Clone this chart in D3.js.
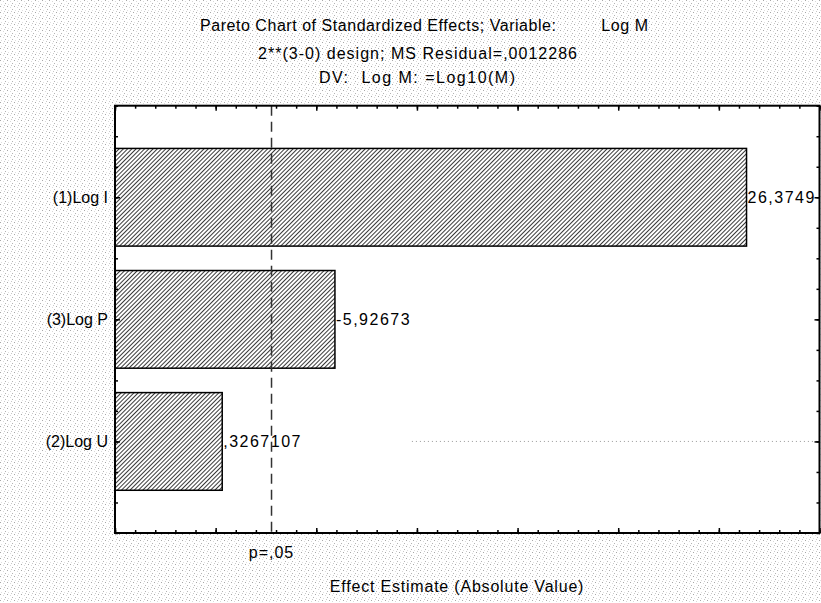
<!DOCTYPE html>
<html>
<head>
<meta charset="utf-8">
<script src="https://cdn.jsdelivr.net/npm/d3@7"></script>
<style>
  html, body { margin: 0; padding: 0; background: #fff; }
  svg { display: block; font-family: "Liberation Sans", Arial, sans-serif; }
  .axis path { stroke: none; }
  .axis line { stroke: #000; stroke-width: 1.5; }
</style>
</head>
<body>
<svg id="pareto" width="821" height="603"></svg>
<script>
// Effects, sorted as in the chart
const categories = ["(1)Log I", "(3)Log P", "(2)Log U"];
const effects = [26.3749, -5.92673, 0.3267107];
const effectLabels = ["26,3749", "-5,92673", ",3267107"];
const pCritical = 2.776;
const pLabel = "p=,05";
const titleLines = [
  "Pareto Chart of Standardized Effects; Variable:         Log M",
  "2**(3-0) design; MS Residual=,0012286",
  "DV:  Log M: =Log10(M)"
];
const xTitle = "Effect Estimate (Absolute Value)";
const gridValue = 9.75; // the odd dotted grid stub at (2)Log U

const svg = d3.select("#pareto");
const margin = { top: 105.7, right: 1.5, bottom: 70, left: 115 };
const W = +svg.attr("width"), H = +svg.attr("height");

// stippled background
const defs = svg.append("defs");
const bg = defs.append("pattern")
  .attr("id", "stipple")
  .attr("patternUnits", "userSpaceOnUse")
  .attr("width", 7).attr("height", 6);
bg.append("rect").attr("width", 7).attr("height", 6).attr("fill", "#fff");
[[0, 0, "#a8a8a8"], [3, 1, "#dadada"], [5, 3, "#b4b4b4"], [1, 4, "#e0e0e0"], [4, 5, "#c8c8c8"]]
  .forEach(([x, y, c]) => bg.append("rect").attr("x", x).attr("y", y)
    .attr("width", 1).attr("height", 1).attr("fill", c));

const hatch = defs.append("pattern")
  .attr("id", "hatch")
  .attr("patternUnits", "userSpaceOnUse")
  .attr("width", 3).attr("height", 3)
  .attr("patternTransform", "rotate(45)");
hatch.append("rect").attr("width", 3).attr("height", 3).attr("fill", "#fff");
hatch.append("rect").attr("width", 1).attr("height", 3).attr("fill", "#3a3a3a");

svg.append("rect").attr("width", W).attr("height", H).attr("fill", "url(#stipple)");

const x = d3.scaleLinear()
  .domain([-5, 30])
  .range([margin.left, W - margin.right]);

const y = d3.scaleLinear()
  .domain([0, 3.5])
  .range([margin.top, H - margin.bottom]);

const pos = (d, i) => i + 0.75;
const halfBar = 0.4;

// plot area
svg.append("rect")
  .attr("x", x(-5)).attr("y", y(0))
  .attr("width", x(30) - x(-5)).attr("height", y(3.5) - y(0))
  .attr("fill", "#fff");

// dotted grid stub
svg.append("line")
  .attr("x1", x(gridValue)).attr("x2", x(30))
  .attr("y1", y(2.75)).attr("y2", y(2.75))
  .attr("stroke", "#999")
  .attr("stroke-width", 1)
  .attr("stroke-dasharray", "1 3");

// bars (absolute effect)
svg.selectAll(".bar")
  .data(effects)
  .join("rect")
  .attr("class", "bar")
  .attr("x", x(-5))
  .attr("y", (d, i) => y(pos(d, i) - halfBar))
  .attr("width", d => x(Math.abs(d)) - x(-5))
  .attr("height", y(2 * halfBar) - y(0))
  .attr("fill", "url(#hatch)")
  .attr("stroke", "#000")
  .attr("stroke-width", 1.5);

svg.selectAll(".val")
  .data(effects)
  .join("text")
  .attr("class", "val")
  .attr("x", d => x(Math.abs(d)) + 1)
  .attr("y", (d, i) => y(pos(d, i)))
  .attr("dy", "0.35em")
  .attr("font-size", 16)
  .attr("letter-spacing", 1.5)
  .text((d, i) => effectLabels[i]);

// p = .05 line
svg.append("line")
  .attr("x1", x(pCritical)).attr("x2", x(pCritical))
  .attr("y1", y(0)).attr("y2", y(3.5))
  .attr("stroke", "#333")
  .attr("stroke-width", 1.5)
  .attr("stroke-dasharray", "10 6");

svg.append("text")
  .attr("x", x(pCritical))
  .attr("y", y(3.5) + 25)
  .attr("text-anchor", "middle")
  .attr("font-size", 16)
  .attr("letter-spacing", 1)
  .text(pLabel);

// ticks, all pointing inward
const minorX = d3.range(-5, 31, 1);
const majorX = d3.range(-5, 31, 5);
const minorY = d3.range(0, 3.51, 0.25);
const catY = categories.map(pos);

svg.append("g").attr("class", "axis")
  .attr("transform", `translate(0,${y(3.5)})`)
  .call(d3.axisBottom(x).tickValues(minorX).tickSize(-3).tickFormat(""));
svg.append("g").attr("class", "axis")
  .attr("transform", `translate(0,${y(3.5)})`)
  .call(d3.axisBottom(x).tickValues(majorX).tickSize(-5).tickFormat(""));
svg.append("g").attr("class", "axis")
  .attr("transform", `translate(0,${y(0)})`)
  .call(d3.axisTop(x).tickValues(minorX).tickSize(-3).tickFormat(""));
svg.append("g").attr("class", "axis")
  .attr("transform", `translate(0,${y(0)})`)
  .call(d3.axisTop(x).tickValues(majorX).tickSize(-5).tickFormat(""));

svg.append("g").attr("class", "axis")
  .attr("transform", `translate(${x(-5)},0)`)
  .call(d3.axisLeft(y).tickValues(minorY).tickSize(-3).tickFormat(""));
svg.append("g").attr("class", "axis")
  .attr("transform", `translate(${x(-5)},0)`)
  .call(d3.axisLeft(y).tickValues(catY).tickSize(-5).tickFormat(""));
svg.append("g").attr("class", "axis")
  .attr("transform", `translate(${x(30)},0)`)
  .call(d3.axisRight(y).tickValues(minorY).tickSize(-3).tickFormat(""));
svg.append("g").attr("class", "axis")
  .attr("transform", `translate(${x(30)},0)`)
  .call(d3.axisRight(y).tickValues(catY).tickSize(-5).tickFormat(""));

// frame
svg.append("rect")
  .attr("x", x(-5)).attr("y", y(0))
  .attr("width", x(30) - x(-5)).attr("height", y(3.5) - y(0))
  .attr("fill", "none")
  .attr("stroke", "#000")
  .attr("stroke-width", 2);

// category labels
svg.selectAll(".cat")
  .data(categories)
  .join("text")
  .attr("class", "cat")
  .attr("x", x(-5) - 7)
  .attr("y", (d, i) => y(pos(d, i)))
  .attr("dy", "0.35em")
  .attr("text-anchor", "end")
  .attr("font-size", 16)
  .text(d => d);

// titles
const titleSpan = [[200, 648], [258, 577], [319, 515]];
svg.selectAll(".title")
  .data(titleLines)
  .join("text")
  .attr("class", "title")
  .attr("x", (d, i) => titleSpan[i][0])
  .attr("y", (d, i) => [31, 59, 83][i])
  .attr("font-size", 16)
  .attr("textLength", (d, i) => titleSpan[i][1] - titleSpan[i][0])
  .attr("lengthAdjust", "spacing")
  .style("white-space", "pre")
  .text(d => d);

svg.append("text")
  .attr("x", 457)
  .attr("y", H - 11)
  .attr("text-anchor", "middle")
  .attr("font-size", 16)
  .attr("letter-spacing", 0.8)
  .text(xTitle);
</script>
</body>
</html>
